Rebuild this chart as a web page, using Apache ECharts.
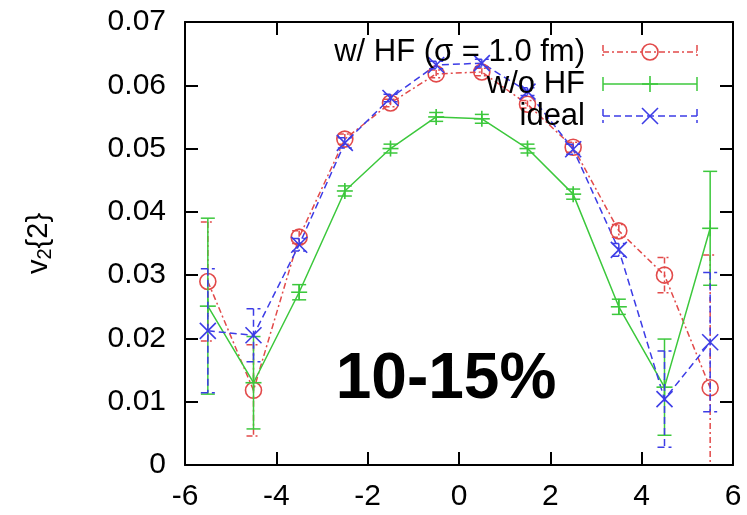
<!DOCTYPE html>
<html><head><meta charset="utf-8">
<script src="https://cdn.jsdelivr.net/npm/echarts@6/dist/echarts.min.js"></script>
<style>html,body{margin:0;padding:0;background:#fff}#c{width:747px;height:515px}</style>
</head><body><div id="c"></div>
<script>
const xValues = [-5.5,-4.5,-3.5,-2.5,-1.5,-0.5,0.5,1.5,2.5,3.5,4.5,5.5];
const hfValues = [0.0290,0.0118,0.0360,0.0515,0.0572,0.0618,0.0621,0.0570,0.0502,0.0370,0.0300,0.0122];
const hfErrors = [0.0094,0.0072,0.0010,0.0008,0.0006,0.0006,0.0006,0.0006,0.0008,0.0010,0.0028,0.0210];
const noHfValues = [0.0251,0.0130,0.0273,0.0433,0.0500,0.0550,0.0547,0.0500,0.0428,0.0250,0.0123,0.0374];
const noHfErrors = [0.0139,0.0073,0.0012,0.0008,0.0007,0.0007,0.0007,0.0007,0.0008,0.0012,0.0076,0.0090];
const idealValues = [0.0212,0.0205,0.0348,0.0509,0.0580,0.0632,0.0635,0.0590,0.0499,0.0340,0.0104,0.0194];
const idealErrors = [0.0098,0.0042,0.0010,0.0008,0.0006,0.0006,0.0006,0.0006,0.0008,0.0010,0.0076,0.0110];
const seriesNames = ['w/ HF (\u03c3 = 1.0 fm)', 'w/o HF', 'ideal'];
const xTicks = {min:-6, max:6, interval:2};
const yTicks = {min:0, max:0.07, interval:0.01};
const panelLabel = '10-15%';

const FONT = "'Liberation Sans', Arial, Helvetica, sans-serif";
const RED = '#e24a4a', GREEN = '#3cc83c', BLUE = '#3c3ce6';
const DASH_RED = [6,3,2,3], DASH_BLUE = [7,4];

function markerShape(kind, cx, cy, color){
  const st = {stroke: color, lineWidth: 1.6, fill: null};
  if (kind === 'circle') return {type:'circle', shape:{cx, cy, r:8}, style:{stroke:color, lineWidth:1.6, fill:'none'}};
  const s = 8;
  if (kind === 'cross') return {type:'group', children:[
    {type:'line', shape:{x1:cx-s,y1:cy-s,x2:cx+s,y2:cy+s}, style:st},
    {type:'line', shape:{x1:cx-s,y1:cy+s,x2:cx+s,y2:cy-s}, style:st}]};
  return {type:'group', children:[
    {type:'line', shape:{x1:cx-s,y1:cy,x2:cx+s,y2:cy}, style:st},
    {type:'line', shape:{x1:cx,y1:cy-s,x2:cx,y2:cy+s}, style:st}]};
}

function errSeries(name, vals, errs, color, marker, dash){
  return {
    type:'custom', name, z:3,
    data: xValues.map((x,i)=>[x, vals[i], errs[i]]),
    encode:{x:0, y:1},
    renderItem(params, api){
      const x = api.value(0), y = api.value(1), e = api.value(2);
      const p = api.coord([x, y]);
      const hi = api.coord([x, y + e]);
      const lo = api.coord([x, Math.max(0, y - e)]);
      const cw = 7;
      const st = {stroke: color, lineWidth: 1.5, lineDash: dash || null};
      const ch = [
        {type:'line', shape:{x1:hi[0],y1:hi[1],x2:lo[0],y2:lo[1]}, style:st},
        {type:'line', shape:{x1:hi[0]-cw,y1:hi[1],x2:hi[0]+cw,y2:hi[1]}, style:st}
      ];
      if (y - e >= 0) ch.push({type:'line', shape:{x1:lo[0]-cw,y1:lo[1],x2:lo[0]+cw,y2:lo[1]}, style:st});
      ch.push(markerShape(marker, p[0], p[1], color));
      return {type:'group', children: ch};
    }
  };
}

function lineSeries(name, vals, color, dash){
  return {type:'line', name, z:2, symbol:'none', silent:true, animation:false,
    data: xValues.map((x,i)=>[x, vals[i]]),
    lineStyle:{color, width:1.5, type: dash || 'solid'}};
}

function legendItem(label, y, color, marker, dash){
  const x1 = 603, x2 = 697, xm = 650;
  const st = {stroke: color, lineWidth: 1.5, lineDash: dash || null};
  return [
    {type:'text', x:585, y, style:{text:label, font:"31px " + FONT, fill:'#000', align:'right', verticalAlign:'middle'}, z:10},
    {type:'line', shape:{x1, y1:y, x2, y2:y}, style:st, z:10},
    {type:'line', shape:{x1, y1:y-7, x2:x1, y2:y+7}, style:st, z:10},
    {type:'line', shape:{x1:x2, y1:y-7, x2, y2:y+7}, style:st, z:10},
    Object.assign(markerShape(marker, xm, y, color), {z:10})
  ];
}

const axisCommon = {
  axisLine:{onZero:false, lineStyle:{color:'#000', width:2}},
  axisTick:{inside:true, length:13, lineStyle:{color:'#000', width:2}},
  splitLine:{show:false}
};

const chart = echarts.init(document.getElementById('c'), null, {renderer:'canvas'});
chart.setOption({
  animation:false,
  backgroundColor:'#fff',
  grid:{left:185, right:14, top:22, bottom:50},
  xAxis:[
    Object.assign({type:'value', position:'bottom', ...xTicks,
      axisLabel:{color:'#000', fontSize:30, fontFamily:FONT, margin:17}}, axisCommon),
    Object.assign({type:'value', position:'top', ...xTicks, axisLabel:{show:false}}, axisCommon)
  ],
  yAxis:[
    Object.assign({type:'value', position:'left', ...yTicks,
      name:'v{sub|2}{2}', nameLocation:'middle', nameRotate:90, nameGap:130,
      nameTextStyle:{color:'#000', fontSize:29, fontFamily:FONT, rich:{sub:{fontSize:20, fontFamily:FONT, color:'#000', verticalAlign:'bottom', padding:[12,0,0,0]}}},
      axisLabel:{color:'#000', fontSize:30, fontFamily:FONT, margin:19,
        formatter: v => v === 0 ? '0' : v.toFixed(2)}}, axisCommon),
    Object.assign({type:'value', position:'right', ...yTicks, axisLabel:{show:false}}, axisCommon)
  ],
  series:[
    lineSeries(seriesNames[0], hfValues, RED, DASH_RED),
    lineSeries(seriesNames[1], noHfValues, GREEN, null),
    lineSeries(seriesNames[2], idealValues, BLUE, DASH_BLUE),
    errSeries(seriesNames[0], hfValues, hfErrors, RED, 'circle', DASH_RED),
    errSeries(seriesNames[1], noHfValues, noHfErrors, GREEN, 'plus', null),
    errSeries(seriesNames[2], idealValues, idealErrors, BLUE, 'cross', DASH_BLUE)
  ],
  graphic:[
    {type:'text', x:446, y:380, z:10, style:{text:panelLabel, font:"bold 64px " + FONT, fill:'#000', align:'center', verticalAlign:'middle'}},
    ...legendItem(seriesNames[0], 52, RED, 'circle', DASH_RED),
    ...legendItem(seriesNames[1], 84, GREEN, 'plus', null),
    ...legendItem(seriesNames[2], 116, BLUE, 'cross', DASH_BLUE)
  ]
});
</script></body></html>
